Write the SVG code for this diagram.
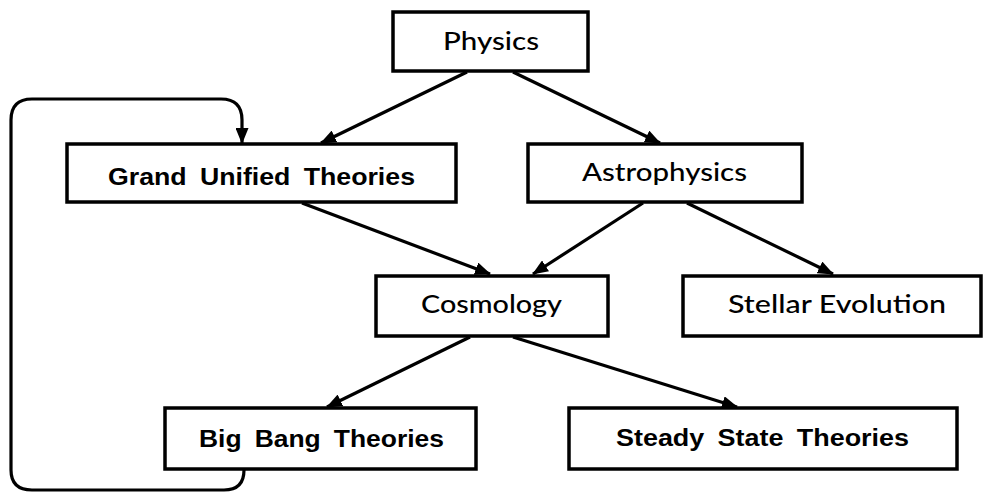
<svg xmlns="http://www.w3.org/2000/svg" width="985" height="493" viewBox="0 0 985 493">
<defs>
<style>
.box{fill:#fff;stroke:#000;stroke-width:3.5}
.c{fill:none;stroke:#000;stroke-width:3.2}
.t1{font-family:Lato,"Open Sans","Liberation Sans",sans-serif;font-size:25px;font-weight:500;text-anchor:middle;fill:#000}
.t2{font-family:"Liberation Sans",Arial,sans-serif;font-size:23px;font-weight:bold;text-anchor:middle;fill:#000}
</style>
<marker id="ah" viewBox="0 0 16 13" refX="15" refY="6.5" markerWidth="16" markerHeight="13" markerUnits="userSpaceOnUse" orient="auto">
<path d="M0,0 L16,6.5 L0,13 Z" fill="#000"/>
</marker>
</defs>
<rect width="985" height="493" fill="#fff"/>
<g id="connectors">
<line class="c" x1="467" y1="72" x2="321" y2="143" marker-end="url(#ah)"/>
<line class="c" x1="513" y1="72" x2="660" y2="143" marker-end="url(#ah)"/>
<line class="c" x1="302" y1="203" x2="490" y2="274" marker-end="url(#ah)"/>
<line class="c" x1="643" y1="203" x2="533" y2="274" marker-end="url(#ah)"/>
<line class="c" x1="687" y1="203" x2="833" y2="274" marker-end="url(#ah)"/>
<line class="c" x1="470" y1="337" x2="327" y2="407" marker-end="url(#ah)"/>
<line class="c" x1="513" y1="337" x2="737" y2="407" marker-end="url(#ah)"/>
<path class="c" d="M244,470 Q244,490 224,490 L32,490 Q11,490 11,470 L11,120 Q11,99 32,99 L221,99 Q242,99 242,120 L242,143" marker-end="url(#ah)"/>
</g>
<g id="physics"><rect class="box" x="393" y="12" width="195" height="59"/><text class="t1" x="491" y="50" textLength="96" lengthAdjust="spacingAndGlyphs">Physics</text></g>
<g id="gut"><rect class="box" x="67" y="144" width="389" height="58"/><text class="t2" x="261.5" y="185" textLength="307" lengthAdjust="spacingAndGlyphs" word-spacing="5">Grand Unified Theories</text></g>
<g id="astrophysics"><rect class="box" x="528" y="144" width="274" height="58"/><text class="t1" x="664.5" y="181" textLength="165" lengthAdjust="spacingAndGlyphs">Astrophysics</text></g>
<g id="cosmology"><rect class="box" x="376" y="276" width="232" height="60"/><text class="t1" x="491.5" y="313" textLength="141" lengthAdjust="spacingAndGlyphs">Cosmology</text></g>
<g id="stellar"><rect class="box" x="683" y="276" width="298" height="60"/><text class="t1" x="837" y="313" textLength="218" lengthAdjust="spacingAndGlyphs">Stellar Evolution</text></g>
<g id="bigbang"><rect class="box" x="165" y="408" width="311" height="61"/><text class="t2" x="321.5" y="447" textLength="245" lengthAdjust="spacingAndGlyphs" word-spacing="5">Big Bang Theories</text></g>
<g id="steady"><rect class="box" x="569" y="408" width="388" height="61"/><text class="t2" x="762.5" y="446" textLength="293" lengthAdjust="spacingAndGlyphs" word-spacing="5">Steady State Theories</text></g>
</svg>
